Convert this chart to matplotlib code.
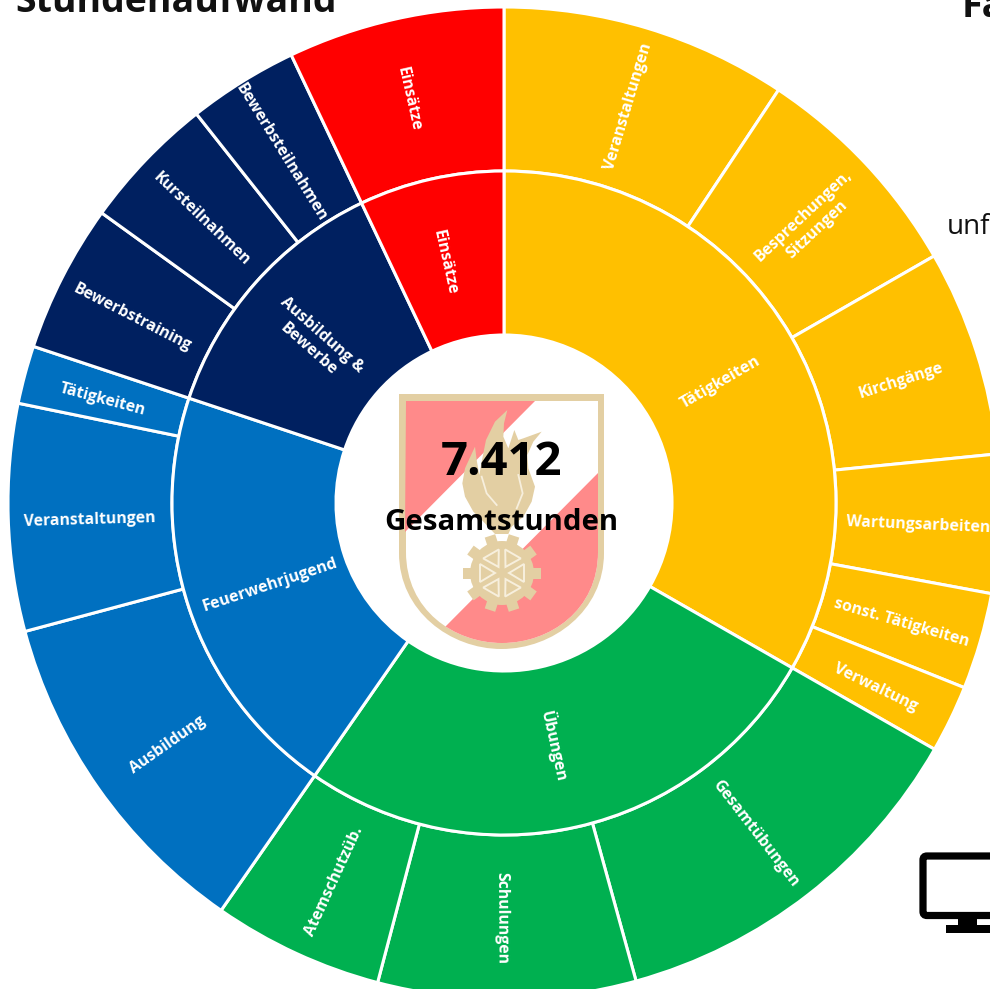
import numpy as np
from matplotlib import pyplot as plt
from matplotlib.lines import Line2D
from matplotlib.patches import Circle, FancyBboxPatch, Polygon, Rectangle, PathPatch
from matplotlib.path import Path
from matplotlib.transforms import Affine2D

plt.rcParams['font.family'] = ['Open Sans', 'DejaVu Sans']

group_names = ['Tätigkeiten', 'Übungen', 'Feuerwehrjugend', 'Ausbildung &\nBewerbe', 'Einsätze']
group_colors = ['#FFC000', '#00B050', '#0070C0', '#002060', '#FF0000']

taetigkeiten_names = ['Veranstaltungen', 'Besprechungen,\nSitzungen', 'Kirchgänge', 'Wartungsarbeiten',
                      'sonst. Tätigkeiten', 'Verwaltung']
taetigkeiten_hours = [692, 546, 498, 334, 233, 163]
uebungen_names = ['Gesamtübungen', 'Schulungen', 'Atemschutzüb.']
uebungen_hours = [922, 622, 412]
jugend_names = ['Ausbildung', 'Veranstaltungen', 'Tätigkeiten']
jugend_hours = [828, 548, 140]
ausbildung_names = ['Bewerbstraining', 'Kursteilnahmen', 'Bewerbsteilnahmen']
ausbildung_hours = [358, 327, 266]
einsaetze_names = ['Einsätze']
einsaetze_hours = [523]

groups = [taetigkeiten_hours, uebungen_hours, jugend_hours, ausbildung_hours, einsaetze_hours]
group_hours = [sum(g) for g in groups]
outer_names = taetigkeiten_names + uebungen_names + jugend_names + ausbildung_names + einsaetze_names
outer_hours = [v for g in groups for v in g]
outer_colors = [c for c, g in zip(group_colors, groups) for _ in g]

W, H = 990, 989
CX, CY = 504, 503
TAN = '#E3CFA3'
PINK = '#FF8A8A'
PALE = '#F7EFDD'


def py(y):
    # Bildkoordinaten (y nach unten) nach Achsenkoordinaten
    return H - y


def ring_labels(ax, names, hours, radius, size):
    total = sum(outer_hours)
    start = 0
    for name, v in zip(names, hours):
        mid = (start + v / 2) / total * 360
        start += v
        rad = np.radians(mid)
        rot = 90 - mid if mid < 180 else 270 - mid
        # Text sitzt etwas tiefer als die Mitte des Rings
        x = CX + radius * np.sin(rad) + 4.5 * np.sin(np.radians(rot))
        y = CY - radius * np.cos(rad) + 4.5 * np.cos(np.radians(rot))
        ax.text(x, py(y), name, color='white', fontsize=size, fontweight='bold', ha='center',
                va='center', rotation=rot, rotation_mode='anchor', linespacing=1.3, ma='center', zorder=5)


def shield_path(x0, x1, top, side, tip):
    mid = (x0 + x1) / 2
    w = x1 - x0
    verts = [(x0, py(top)), (x1, py(top)), (x1, py(side)),
             (x1, py(side + 58)), (mid + w * 0.25, py(tip)), (mid, py(tip)),
             (mid - w * 0.25, py(tip)), (x0, py(side + 58)), (x0, py(side)),
             (x0, py(top))]
    codes = [Path.MOVETO, Path.LINETO, Path.LINETO, Path.CURVE4, Path.CURVE4, Path.CURVE4,
             Path.CURVE4, Path.CURVE4, Path.CURVE4, Path.CLOSEPOLY]
    return Path(verts, codes)


def zoom_pts(points):
    # Punkte aus dem 3x-Ausschnitt des Wappens
    return [(380 + x / 3, py(380 + y / 3)) for x, y in points]


def draw_logo(ax):
    outer = shield_path(399, 604, 394, 553, 649)
    inner = shield_path(406, 598, 401, 552, 643)
    ax.add_patch(PathPatch(outer, fc=TAN, ec='none', zorder=3))
    white = PathPatch(inner, fc='white', ec='none', zorder=3)
    ax.add_patch(white)
    band1 = Polygon([(406, py(401)), (535, py(401)), (405, py(532))], fc=PINK, ec='none', zorder=3)
    band2 = Polygon([(600, py(471)), (445, py(627)), (445, py(660)), (600, py(660))], fc=PINK, ec='none', zorder=3)
    ax.add_patch(band1)
    ax.add_patch(band2)
    band2.set_clip_path(white)

    flame = [(345, 462), (315, 430), (280, 395), (255, 350), (247, 310), (255, 265), (285, 200), (290, 240),
             (298, 285), (305, 245), (318, 180), (345, 125), (382, 90), (372, 130), (370, 170), (385, 205),
             (403, 150), (415, 180), (430, 175), (485, 155), (460, 185), (442, 225), (445, 265), (465, 320),
             (455, 365), (430, 410), (395, 440), (385, 462)]
    ax.add_patch(Polygon(zoom_pts(flame), fc=TAN, ec='none', zorder=3))
    for pts in ([(305, 290), (320, 340), (350, 375)], [(415, 285), (428, 340), (410, 385)]):
        xs, ys = zip(*zoom_pts(pts))
        ax.add_line(Line2D(xs, ys, color=PALE, lw=1.3, zorder=3))

    gx, gy = 502, 573
    ax.add_patch(Circle((gx, py(gy)), 32, fc=TAN, ec='none', zorder=3))
    for a in np.arange(0, 360, 360 / 10) + 18:
        tooth = Rectangle((gx - 5.5, py(gy) + 28), 11, 11, fc=TAN, ec='none', zorder=3)
        tooth.set_transform(Affine2D().rotate_deg_around(gx, py(gy), a) + ax.transData)
        ax.add_patch(tooth)
    for a in np.arange(30, 360, 60):
        tri = np.array([[0, 7], [-9, 22], [9, 22]], dtype=float)
        r = np.radians(a)
        xs = gx + tri[:, 0] * np.cos(r) + tri[:, 1] * np.sin(r)
        ys = py(gy) - tri[:, 0] * np.sin(r) + tri[:, 1] * np.cos(r)
        ax.add_patch(Polygon(np.column_stack([xs, ys]), fc=TAN, ec=PALE, lw=1.4, zorder=3))


fig = plt.figure(figsize=(W / 100, H / 100), dpi=100)
ax = fig.add_axes([0, 0, 1, 1])

common = dict(startangle=90, counterclock=False, center=(CX, py(CY)), frame=True)
ax.pie(outer_hours, colors=outer_colors, radius=496,
       wedgeprops=dict(width=164, edgecolor='white', linewidth=2.2), **common)
ax.pie(group_hours, colors=group_colors, radius=332,
       wedgeprops=dict(width=164, edgecolor='white', linewidth=2.2), **common)

ax.set_xlim(0, W)
ax.set_ylim(0, H)
ax.set_aspect('equal')
ax.axis('off')

ring_labels(ax, outer_names, outer_hours, 415, 11.3)
ring_labels(ax, group_names, group_hours, 248, 11.5)

draw_logo(ax)

ax.text(502, py(475), '7.412', fontsize=34, fontweight='bold', color='black', ha='center', va='baseline', zorder=6)
ax.text(501, py(530), 'Gesamtstunden', fontsize=21.2, fontweight='bold', color='black', ha='center', va='baseline', zorder=6)

# abgeschnittene Texte am Bildrand
ax.text(15, py(12), 'Stundenaufwand', fontsize=27, fontweight='bold', color='#111111', ha='left', va='baseline')
ax.text(962, py(17), 'Fa', fontsize=27, fontweight='bold', color='#111111', ha='left', va='baseline')
ax.text(947, py(234), 'unf', fontsize=20, color='#111111', ha='left', va='baseline')

# Monitor-Symbol
ax.add_patch(FancyBboxPatch((923, py(915.5)), 90, 59.5, boxstyle='round,pad=0,rounding_size=4',
                            fc='white', ec='black', lw=5.2, zorder=4))
ax.add_patch(Rectangle((958, py(928)), 19, 12, fc='black', ec='none', zorder=4))
ax.add_patch(Rectangle((946, py(933)), 60, 8, fc='black', ec='none', zorder=4))

plt.savefig('out.png', dpi=100)
